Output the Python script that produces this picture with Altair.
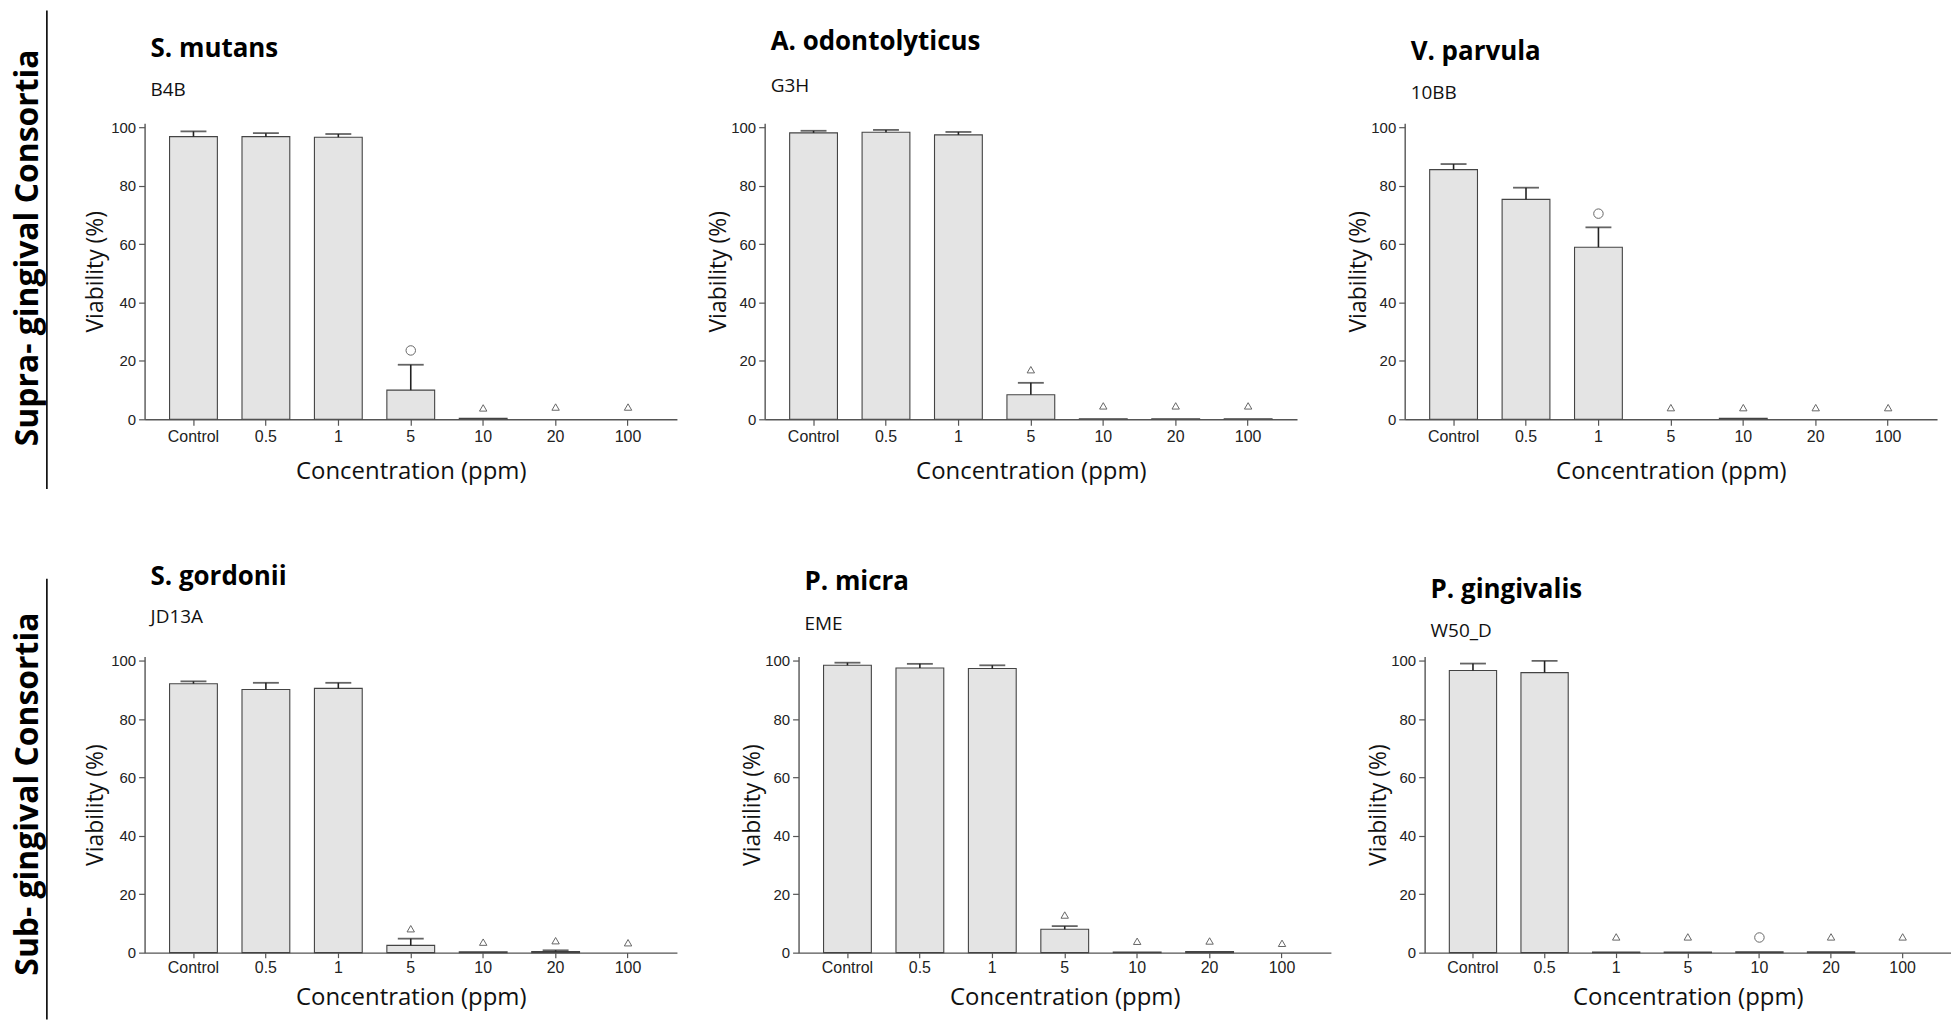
import altair as alt
import pandas as pd

# ---------------- data ----------------
CATEGORIES = ["Control", "0.5", "1", "5", "10", "20", "100"]
SPECIES = ["S. mutans", "A. odontolyticus", "V. parvula",
           "S. gordonii", "P. micra", "P. gingivalis"]
STRAINS = ["B4B", "G3H", "10BB", "JD13A", "EME", "W50_D"]
GROUP_LABELS = ["Supra- gingival Consortia", "Sub- gingival Consortia"]

mutans_mean = [96.9, 96.9, 96.7, 10.0, 0.3, 0.0, 0.0]
mutans_upper = [98.7, 98.1, 97.8, 18.7, 0.3, 0.0, 0.0]
mutans_sym = ["", "", "", "circle", "triangle", "triangle", "triangle"]
mutans_sym_y = [None, None, None, 23.6, 3.9, 4.2, 4.2]

odont_mean = [98.2, 98.4, 97.5, 8.4, 0.2, 0.2, 0.2]
odont_upper = [98.9, 99.2, 98.5, 12.5, 0.2, 0.2, 0.2]
odont_sym = ["", "", "", "triangle", "triangle", "triangle", "triangle"]
odont_sym_y = [None, None, None, 17.0, 4.6, 4.6, 4.6]

parvula_mean = [85.6, 75.4, 59.0, 0.0, 0.3, 0.0, 0.0]
parvula_upper = [87.5, 79.4, 65.8, 0.0, 0.3, 0.0, 0.0]
parvula_sym = ["", "", "circle", "triangle", "triangle", "triangle", "triangle"]
parvula_sym_y = [None, None, 70.5, 4.0, 4.0, 4.0, 4.0]

gordonii_mean = [92.2, 90.2, 90.6, 2.5, 0.3, 0.4, 0.0]
gordonii_upper = [93.0, 92.5, 92.5, 4.8, 0.3, 0.8, 0.0]
gordonii_sym = ["", "", "", "triangle", "triangle", "triangle", "triangle"]
gordonii_sym_y = [None, None, None, 8.2, 3.6, 4.1, 3.4]

micra_mean = [98.5, 97.6, 97.4, 8.0, 0.2, 0.4, 0.0]
micra_upper = [99.4, 99.0, 98.5, 9.1, 0.2, 0.4, 0.0]
micra_sym = ["", "", "", "triangle", "triangle", "triangle", "triangle"]
micra_sym_y = [None, None, None, 12.9, 3.9, 4.0, 3.2]

gingivalis_mean = [96.7, 96.0, 0.2, 0.2, 0.3, 0.3, 0.0]
gingivalis_upper = [99.1, 100.0, 0.2, 0.2, 0.3, 0.3, 0.0]
gingivalis_sym = ["", "", "triangle", "triangle", "circle", "triangle", "triangle"]
gingivalis_sym_y = [None, None, 5.4, 5.4, 5.2, 5.4, 5.4]

Y_TICKS = [0, 20, 40, 60, 80, 100]

LABEL_FONT = "Liberation Sans"
TEXT_FONT = "Open Sans"
AXIS_GREY = "#555555"
PANEL_HEIGHT = 297


def make_panel(name, strain, mean, upper, sym, sym_y, width, ytitle_pad, top_row,
               title_offset, sub_pad):
    df = pd.DataFrame({"conc": CATEGORIES, "mean": mean, "upper": upper,
                       "sym": sym, "sym_y": sym_y})
    xaxis = alt.Axis(title="Concentration (ppm)", labelAngle=0,
                     labelFont=LABEL_FONT, labelFontSize=16, labelColor="#222222",
                     labelPadding=3 if top_row else 2,
                     tickSize=6 if top_row else 5, tickColor=AXIS_GREY, tickWidth=1.2,
                     domainColor=AXIS_GREY, domainWidth=1.4,
                     titleFont=TEXT_FONT, titleFontSize=24, titleFontWeight="normal",
                     titleColor="#111111", titlePadding=15 if top_row else 10)
    x = alt.X("conc:N", sort=CATEGORIES,
              scale=alt.Scale(domain=CATEGORIES, paddingInner=0.34, paddingOuter=0.345),
              axis=xaxis)
    yaxis = alt.Axis(title="Viability (%)", values=Y_TICKS, grid=False,
                     labelFont=LABEL_FONT, labelFontSize=15, labelColor="#222222",
                     labelPadding=3, tickSize=6, tickColor=AXIS_GREY, tickWidth=1.2,
                     domainColor=AXIS_GREY, domainWidth=1.4,
                     titleFont=TEXT_FONT, titleFontSize=23, titleFontWeight="normal",
                     titleColor="#111111", titlePadding=ytitle_pad)
    ys = alt.Scale(domain=[0, 101.5], nice=False)
    base = alt.Chart(df)
    bars = base.transform_filter("datum.mean > 0").mark_bar(
        fill="#e4e4e4", stroke="#444444", strokeWidth=1.1
    ).encode(x=x, y=alt.Y("mean:Q", scale=ys, axis=yaxis))
    err = base.transform_filter("datum.upper > datum.mean").mark_rule(
        color="#222222", strokeWidth=1.6
    ).encode(x=x, y=alt.Y("mean:Q", scale=ys, axis=yaxis), y2="upper:Q")
    cap = base.transform_filter("datum.upper > datum.mean").mark_tick(
        color="#222222", thickness=1.8, size=26
    ).encode(x=x, y=alt.Y("upper:Q", scale=ys, axis=yaxis))
    circ = base.transform_filter("datum.sym == 'circle'").mark_point(
        shape="circle", filled=False, size=90, color="#666666", strokeWidth=1, opacity=1
    ).encode(x=x, y=alt.Y("sym_y:Q", scale=ys, axis=yaxis))
    tri = base.transform_filter("datum.sym == 'triangle'").mark_point(
        shape="triangle-up", filled=False, size=55, color="#666666", strokeWidth=1, opacity=1
    ).encode(x=x, y=alt.Y("sym_y:Q", scale=ys, axis=yaxis))

    title = alt.TitleParams(
        text=name, subtitle=strain,
        anchor="start", frame="group", dx=6,
        font=TEXT_FONT, fontSize=26, fontWeight="bold", color="#000000",
        subtitleFont=TEXT_FONT, subtitleFontSize=19, subtitleColor="#111111",
        subtitlePadding=sub_pad, offset=title_offset)
    return alt.layer(bars, err, cap, circ, tri).properties(
        width=width, height=PANEL_HEIGHT, title=title)


# left-hand group labels with their separator lines (decoration only)
side_df = pd.DataFrame({"k": [0]})
side_base = alt.Chart(side_df)
side_layers = []
for label, line_top, line_bottom, text_center in [
    (GROUP_LABELS[0], -113, 367, 125),
    (GROUP_LABELS[1], 457, 899, 673),
]:
    side_layers.append(side_base.mark_rule(color="#000000", strokeWidth=1.6).encode(
        x=alt.value(0), y=alt.value(line_top), y2=alt.value(line_bottom)))
    side_layers.append(side_base.mark_text(
        text=label, angle=270, align="center", baseline="middle",
        font=TEXT_FONT, fontSize=32, fontWeight="bold", color="#000000"
    ).encode(x=alt.value(-19), y=alt.value(text_center)))
side = alt.layer(*side_layers).properties(width=1, height=PANEL_HEIGHT)

p1 = make_panel(SPECIES[0], STRAINS[0], mutans_mean, mutans_upper, mutans_sym, mutans_sym_y,
                534, 3, True, 21, 19)
p2 = make_panel(SPECIES[1], STRAINS[1], odont_mean, odont_upper, odont_sym, odont_sym_y,
                534, 0, True, 25, 22)
p3 = make_panel(SPECIES[2], STRAINS[2], parvula_mean, parvula_upper, parvula_sym, parvula_sym_y,
                534, 0, True, 18, 19)
p4 = make_panel(SPECIES[3], STRAINS[3], gordonii_mean, gordonii_upper, gordonii_sym, gordonii_sym_y,
                534, 3, False, 27, 18)
p5 = make_panel(SPECIES[4], STRAINS[4], micra_mean, micra_upper, micra_sym, micra_sym_y,
                534, 0, False, 20, 20)
p6 = make_panel(SPECIES[5], STRAINS[5], gingivalis_mean, gingivalis_upper, gingivalis_sym, gingivalis_sym_y,
                528, 0, False, 13, 19)

row1 = alt.hconcat(p1, alt.hconcat(p2, p3, spacing=50), spacing=30)
row2 = alt.hconcat(p4, alt.hconcat(p5, p6, spacing=36), spacing=64)
grid = alt.vconcat(row1, row2, spacing=81)

chart = alt.hconcat(side, grid, spacing=36).properties(
    padding={"left": 3, "top": 0, "right": 0, "bottom": 0},
    background="white",
).configure_view(stroke=None)

chart.save("out.html", embed_options={"renderer": "svg", "actions": False})
